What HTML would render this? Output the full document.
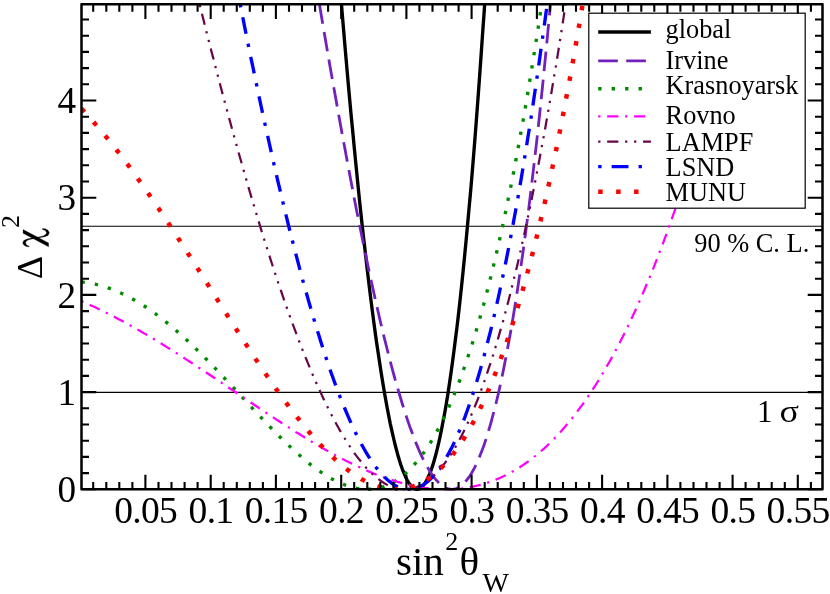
<!DOCTYPE html>
<html><head><meta charset="utf-8"><title>chart</title>
<style>
html,body{margin:0;padding:0;background:#fff;}
body{width:830px;height:594px;overflow:hidden;}
svg{display:block;will-change:transform;}
text{font-family:"Liberation Serif",serif;fill:#000;}
</style></head><body>
<svg width="830" height="594" viewBox="0 0 830 594">
<rect x="0" y="0" width="830" height="594" fill="#fff"/>

<defs><clipPath id="cp"><rect x="81.0" y="3.8" width="742.0" height="487.2"/></clipPath></defs>
<line x1="81.5" x2="822.5" y1="392.4" y2="392.4" stroke="#000" stroke-width="1.15"/>
<line x1="81.5" x2="822.5" y1="226.2" y2="226.2" stroke="#000" stroke-width="1.15"/>
<g clip-path="url(#cp)" fill="none" stroke-linejoin="round">
<path d="M339.0,-25.8 L340.5,-7.3 L342.0,10.9 L343.5,28.8 L345.0,46.5 L346.5,63.8 L348.0,80.8 L349.5,97.5 L351.0,113.9 L352.6,130.0 L354.1,145.8 L355.6,161.3 L357.1,176.4 L358.6,191.3 L360.1,205.8 L361.6,220.0 L363.1,233.8 L364.7,247.3 L366.2,260.5 L367.7,273.4 L369.2,285.9 L370.7,298.1 L372.2,309.9 L373.7,321.4 L375.2,332.5 L376.7,343.3 L378.3,353.7 L379.8,363.8 L381.3,373.4 L382.8,382.8 L384.3,391.7 L385.8,400.3 L387.3,408.5 L388.8,416.3 L390.3,423.8 L391.9,430.9 L393.4,437.5 L394.9,443.8 L396.4,449.7 L397.9,455.2 L399.4,460.3 L400.9,465.0 L402.4,469.3 L404.0,473.2 L405.5,476.7 L407.0,479.7 L408.5,482.4 L410.0,484.6 L411.5,486.4 L413.0,487.8 L414.5,488.7 L416.0,489.2 L417.6,489.3 L419.1,488.9 L420.6,488.1 L422.1,486.9 L423.6,485.2 L425.1,483.0 L426.6,480.4 L428.1,477.3 L429.6,473.8 L431.2,469.8 L432.7,465.4 L434.2,460.4 L435.7,455.0 L437.2,449.2 L438.7,442.8 L440.2,436.0 L441.7,428.6 L443.2,420.8 L444.8,412.5 L446.3,403.7 L447.8,394.4 L449.3,384.6 L450.8,374.3 L452.3,363.5 L453.8,352.1 L455.3,340.3 L456.9,327.9 L458.4,315.0 L459.9,301.6 L461.4,287.6 L462.9,273.2 L464.4,258.1 L465.9,242.6 L467.4,226.5 L468.9,209.9 L470.5,192.7 L472.0,174.9 L473.5,156.6 L475.0,137.8 L476.5,118.3 L478.0,98.4 L479.5,77.8 L481.0,56.7 L482.5,35.0 L484.1,12.7 L485.6,-10.2 L486.6,-25.8" stroke="#000000" stroke-width="3.36"/>
<path d="M314.5,-24.4 L316.0,-15.4 L317.5,-6.5 L319.1,2.4 L320.6,11.3 L322.1,20.2 L323.6,29.0 L325.1,37.8 L326.6,46.5 L328.1,55.2 L329.6,63.9 L331.1,72.5 L332.7,81.1 L334.2,89.7 L335.7,98.1 L337.2,106.6 L338.7,115.0 L340.2,123.3 L341.7,131.6 L343.2,139.9 L344.8,148.1 L346.3,156.2 L347.8,164.3 L349.3,172.3 L350.8,180.2 L352.3,188.1 L353.8,196.0 L355.3,203.7 L356.8,211.4 L358.4,219.1 L359.9,226.6 L361.4,234.1 L362.9,241.5 L364.4,248.9 L365.9,256.1 L367.4,263.3 L368.9,270.4 L370.4,277.5 L372.0,284.4 L373.5,291.3 L375.0,298.1 L376.5,304.7 L378.0,311.3 L379.5,317.9 L381.0,324.3 L382.5,330.6 L384.0,336.8 L385.6,343.0 L387.1,349.0 L388.6,354.9 L390.1,360.7 L391.6,366.5 L393.1,372.1 L394.6,377.6 L396.1,383.0 L397.7,388.3 L399.2,393.5 L400.7,398.5 L402.2,403.5 L403.7,408.3 L405.2,413.0 L406.7,417.6 L408.2,422.0 L409.7,426.4 L411.3,430.6 L412.8,434.7 L414.3,438.6 L415.8,442.4 L417.3,446.1 L418.8,449.7 L420.3,453.1 L421.8,456.3 L423.3,459.5 L424.9,462.4 L426.4,465.3 L427.9,468.0 L429.4,470.5 L430.9,472.9 L432.4,475.1 L433.9,477.2 L435.4,479.1 L437.0,480.9 L438.5,482.5 L440.0,483.9 L441.5,485.2 L443.0,486.3 L444.5,487.2 L446.0,488.0 L447.5,488.6 L449.0,489.0 L450.6,489.2 L451.8,489.3" stroke="#7221BC" stroke-width="2.80" stroke-dasharray="19.62 8.41" stroke-dashoffset="26.93"/>
<path d="M451.8,489.3 L453.3,489.2 L454.8,488.9 L456.3,488.5 L457.9,487.8 L459.4,487.0 L460.9,486.0 L462.4,484.8 L463.9,483.3 L465.4,481.7 L466.9,479.9 L468.4,477.9 L470.0,475.7 L471.5,473.3 L473.0,470.6 L474.5,467.8 L476.0,464.7 L477.5,461.5 L479.0,458.0 L480.5,454.3 L482.0,450.4 L483.6,446.2 L485.1,441.9 L486.6,437.3 L488.1,432.4 L489.6,427.4 L491.1,422.1 L492.6,416.5 L494.1,410.8 L495.6,404.8 L497.2,398.5 L498.7,392.0 L500.2,385.3 L501.7,378.3 L503.2,371.0 L504.7,363.5 L506.2,355.8 L507.7,347.8 L509.2,339.5 L510.8,331.0 L512.3,322.1 L513.8,313.1 L515.3,303.7 L516.8,294.1 L518.3,284.2 L519.8,274.0 L521.3,263.6 L522.9,252.9 L524.4,241.8 L525.9,230.5 L527.4,218.9 L528.9,207.1 L530.4,194.9 L531.9,182.4 L533.4,169.6 L534.9,156.6 L536.5,143.2 L538.0,129.5 L539.5,115.5 L541.0,101.2 L542.5,86.5 L544.0,71.6 L545.5,56.4 L547.0,40.8 L548.5,24.9 L550.1,8.6 L551.6,-7.9 L553.1,-24.8" stroke="#7221BC" stroke-width="2.80" stroke-dasharray="19.62 8.41" stroke-dashoffset="11.85"/>
<path d="M81.5,281.9 L83.0,282.1 L84.5,282.3 L86.0,282.5 L87.6,282.7 L89.1,282.9 L90.6,283.2 L92.1,283.5 L93.6,283.8 L95.1,284.1 L96.6,284.5 L98.1,284.9 L99.6,285.3 L101.2,285.7 L102.7,286.1 L104.2,286.6 L105.7,287.1 L107.2,287.6 L108.7,288.1 L110.2,288.6 L111.7,289.2 L113.2,289.8 L114.8,290.4 L116.3,291.0 L117.8,291.6 L119.3,292.3 L120.8,293.0 L122.3,293.7 L123.8,294.4 L125.3,295.2 L126.8,295.9 L128.4,296.7 L129.9,297.5 L131.4,298.3 L132.9,299.2 L134.4,300.0 L135.9,300.9 L137.4,301.8 L138.9,302.7 L140.5,303.6 L142.0,304.6 L143.5,305.6 L145.0,306.5 L146.5,307.5 L148.0,308.6 L149.5,309.6 L151.0,310.7 L152.5,311.7 L154.1,312.8 L155.6,313.9 L157.1,315.0 L158.6,316.2 L160.1,317.3 L161.6,318.5 L163.1,319.7 L164.6,320.9 L166.1,322.1 L167.7,323.3 L169.2,324.6 L170.7,325.8 L172.2,327.1 L173.7,328.4 L175.2,329.7 L176.7,331.0 L178.2,332.4 L179.7,333.7 L181.3,335.0 L182.8,336.4 L184.3,337.8 L185.8,339.2 L187.3,340.6 L188.8,342.0 L190.3,343.4 L191.8,344.9 L193.4,346.3 L194.9,347.8 L196.4,349.3 L197.9,350.7 L199.4,352.2 L200.9,353.7 L202.4,355.2 L203.9,356.8 L205.4,358.3 L207.0,359.8 L208.5,361.4 L210.0,362.9 L211.5,364.5 L213.0,366.0 L214.5,367.6 L216.0,369.2 L217.5,370.8 L219.0,372.4 L220.6,373.9 L222.1,375.5 L223.6,377.2 L225.1,378.8 L226.6,380.4 L228.1,382.0 L229.6,383.6 L231.1,385.2 L232.7,386.9 L234.2,388.5 L235.7,390.1 L237.2,391.8 L238.7,393.4 L240.2,395.0 L241.7,396.7 L243.2,398.3 L244.7,399.9 L246.3,401.6 L247.8,403.2 L249.3,404.8 L250.8,406.4 L252.3,408.1 L253.8,409.7 L255.3,411.3 L256.8,412.9 L258.3,414.5 L259.9,416.2 L261.4,417.8 L262.9,419.4 L264.4,421.0 L265.9,422.5 L267.4,424.1 L268.9,425.7 L270.4,427.3 L271.9,428.8 L273.5,430.4 L275.0,431.9 L276.5,433.4 L278.0,435.0 L279.5,436.5 L281.0,438.0 L282.5,439.5 L284.0,441.0 L285.6,442.4 L287.1,443.9 L288.6,445.3 L290.1,446.7 L291.6,448.2 L293.1,449.6 L294.6,450.9 L296.1,452.3 L297.6,453.7 L299.2,455.0 L300.7,456.3 L302.2,457.6 L303.7,458.9 L305.2,460.2 L306.7,461.4 L308.2,462.7 L309.7,463.9 L311.2,465.1 L312.8,466.2 L314.3,467.4 L315.8,468.5 L317.3,469.6 L318.8,470.7 L320.3,471.7 L321.8,472.7 L323.3,473.7 L324.9,474.7 L326.4,475.7 L327.9,476.6 L329.4,477.5 L330.9,478.4 L332.4,479.2 L333.9,480.0 L335.4,480.8 L336.9,481.5 L338.5,482.3 L340.0,483.0 L341.5,483.6 L343.0,484.2 L344.5,484.8 L346.0,485.4 L347.5,485.9 L349.0,486.4 L350.5,486.9 L352.1,487.3 L353.6,487.7 L355.1,488.0 L356.6,488.3 L358.1,488.6 L359.6,488.8 L361.1,489.0 L362.6,489.1 L364.1,489.2 L365.7,489.3 L367.2,489.3" stroke="#008B00" stroke-width="3.36" stroke-dasharray="3.36 10.09" stroke-dashoffset="0.00"/>
<path d="M367.2,489.3 L368.7,489.3 L370.2,489.2 L371.7,489.1 L373.2,488.9 L374.7,488.7 L376.2,488.5 L377.8,488.2 L379.3,487.8 L380.8,487.4 L382.3,487.0 L383.8,486.5 L385.3,485.9 L386.8,485.3 L388.3,484.7 L389.8,484.0 L391.4,483.2 L392.9,482.4 L394.4,481.5 L395.9,480.6 L397.4,479.6 L398.9,478.6 L400.4,477.5 L401.9,476.3 L403.4,475.1 L405.0,473.9 L406.5,472.5 L408.0,471.1 L409.5,469.7 L411.0,468.1 L412.5,466.6 L414.0,464.9 L415.5,463.2 L417.0,461.4 L418.6,459.5 L420.1,457.6 L421.6,455.6 L423.1,453.6 L424.6,451.4 L426.1,449.2 L427.6,447.0 L429.1,444.6 L430.7,442.2 L432.2,439.7 L433.7,437.2 L435.2,434.5 L436.7,431.8 L438.2,429.0 L439.7,426.1 L441.2,423.2 L442.7,420.1 L444.3,417.0 L445.8,413.8 L447.3,410.5 L448.8,407.2 L450.3,403.7 L451.8,400.2 L453.3,396.6 L454.8,392.9 L456.3,389.1 L457.9,385.2 L459.4,381.2 L460.9,377.1 L462.4,373.0 L463.9,368.7 L465.4,364.4 L466.9,360.0 L468.4,355.4 L470.0,350.8 L471.5,346.1 L473.0,341.3 L474.5,336.4 L476.0,331.4 L477.5,326.3 L479.0,321.0 L480.5,315.7 L482.0,310.3 L483.6,304.8 L485.1,299.1 L486.6,293.4 L488.1,287.6 L489.6,281.6 L491.1,275.6 L492.6,269.4 L494.1,263.1 L495.6,256.7 L497.2,250.2 L498.7,243.6 L500.2,236.9 L501.7,230.1 L503.2,223.1 L504.7,216.0 L506.2,208.8 L507.7,201.5 L509.2,194.1 L510.8,186.6 L512.3,178.9 L513.8,171.1 L515.3,163.2 L516.8,155.1 L518.3,146.9 L519.8,138.6 L521.3,130.2 L522.9,121.7 L524.4,113.0 L525.9,104.2 L527.4,95.2 L528.9,86.1 L530.4,76.9 L531.9,67.6 L533.4,58.1 L534.9,48.5 L536.5,38.7 L538.0,28.8 L539.5,18.8 L540.5,12.0" stroke="#008B00" stroke-width="3.36" stroke-dasharray="3.36 10.09" stroke-dashoffset="12.69"/>
<path d="M81.5,301.1 L83.0,301.8 L84.5,302.5 L86.0,303.1 L87.6,303.8 L89.1,304.5 L90.6,305.2 L92.1,305.9 L93.6,306.6 L95.1,307.3 L96.6,308.0 L98.1,308.8 L99.6,309.5 L101.2,310.2 L102.7,311.0 L104.2,311.7 L105.7,312.5 L107.2,313.2 L108.7,314.0 L110.2,314.7 L111.7,315.5 L113.2,316.3 L114.8,317.1 L116.3,317.9 L117.8,318.7 L119.3,319.5 L120.8,320.3 L122.3,321.1 L123.8,321.9 L125.3,322.7 L126.8,323.6 L128.4,324.4 L129.9,325.2 L131.4,326.1 L132.9,326.9 L134.4,327.8 L135.9,328.6 L137.4,329.5 L138.9,330.3 L140.5,331.2 L142.0,332.1 L143.5,333.0 L145.0,333.8 L146.5,334.7 L148.0,335.6 L149.5,336.5 L151.0,337.4 L152.5,338.3 L154.1,339.2 L155.6,340.1 L157.1,341.1 L158.6,342.0 L160.1,342.9 L161.6,343.8 L163.1,344.8 L164.6,345.7 L166.1,346.6 L167.7,347.6 L169.2,348.5 L170.7,349.5 L172.2,350.4 L173.7,351.4 L175.2,352.3 L176.7,353.3 L178.2,354.2 L179.7,355.2 L181.3,356.2 L182.8,357.1 L184.3,358.1 L185.8,359.1 L187.3,360.1 L188.8,361.0 L190.3,362.0 L191.8,363.0 L193.4,364.0 L194.9,365.0 L196.4,366.0 L197.9,367.0 L199.4,368.0 L200.9,369.0 L202.4,370.0 L203.9,371.0 L205.4,372.0 L207.0,373.0 L208.5,374.0 L210.0,375.0 L211.5,376.0 L213.0,377.0 L214.5,378.0 L216.0,379.0 L217.5,380.1 L219.0,381.1 L220.6,382.1 L222.1,383.1 L223.6,384.1 L225.1,385.1 L226.6,386.2 L228.1,387.2 L229.6,388.2 L231.1,389.2 L232.7,390.2 L234.2,391.3 L235.7,392.3 L237.2,393.3 L238.7,394.3 L240.2,395.3 L241.7,396.4 L243.2,397.4 L244.7,398.4 L246.3,399.4 L247.8,400.4 L249.3,401.5 L250.8,402.5 L252.3,403.5 L253.8,404.5 L255.3,405.5 L256.8,406.5 L258.3,407.5 L259.9,408.6 L261.4,409.6 L262.9,410.6 L264.4,411.6 L265.9,412.6 L267.4,413.6 L268.9,414.6 L270.4,415.6 L271.9,416.6 L273.5,417.6 L275.0,418.6 L276.5,419.6 L278.0,420.5 L279.5,421.5 L281.0,422.5 L282.5,423.5 L284.0,424.5 L285.6,425.4 L287.1,426.4 L288.6,427.4 L290.1,428.3 L291.6,429.3 L293.1,430.3 L294.6,431.2 L296.1,432.2 L297.6,433.1 L299.2,434.0 L300.7,435.0 L302.2,435.9 L303.7,436.8 L305.2,437.8 L306.7,438.7 L308.2,439.6 L309.7,440.5 L311.2,441.4 L312.8,442.3 L314.3,443.2 L315.8,444.1 L317.3,445.0 L318.8,445.9 L320.3,446.8 L321.8,447.6 L323.3,448.5 L324.9,449.4 L326.4,450.2 L327.9,451.1 L329.4,451.9 L330.9,452.8 L332.4,453.6 L333.9,454.4 L335.4,455.2 L336.9,456.0 L338.5,456.8 L340.0,457.6 L341.5,458.4 L343.0,459.2 L344.5,460.0 L346.0,460.8 L347.5,461.5 L349.0,462.3 L350.5,463.0 L352.1,463.8 L353.6,464.5 L355.1,465.2 L356.6,465.9 L358.1,466.7 L359.6,467.3 L361.1,468.0 L362.6,468.7 L364.1,469.4 L365.7,470.1 L367.2,470.7 L368.7,471.4 L370.2,472.0 L371.7,472.6 L373.2,473.2 L374.7,473.9 L376.2,474.5 L377.8,475.0 L379.3,475.6 L380.8,476.2 L382.3,476.8 L383.8,477.3 L385.3,477.8 L386.8,478.4 L388.3,478.9 L389.8,479.4 L391.4,479.9 L392.9,480.4 L394.4,480.8 L395.9,481.3 L397.4,481.8 L398.9,482.2 L400.4,482.6 L401.9,483.0 L403.4,483.4 L405.0,483.8 L406.5,484.2 L408.0,484.6 L409.5,484.9 L411.0,485.3 L412.5,485.6 L414.0,485.9 L415.5,486.2 L417.0,486.5 L418.6,486.8 L420.1,487.0 L421.6,487.3 L423.1,487.5 L424.6,487.8 L426.1,488.0 L427.6,488.1 L429.1,488.3 L430.7,488.5 L432.2,488.6 L433.7,488.8 L435.2,488.9 L436.7,489.0 L438.2,489.1 L439.7,489.2 L441.2,489.2 L442.7,489.3 L444.3,489.3 L445.8,489.3 L446.0,489.3" stroke="#FF00FF" stroke-width="2.24" stroke-dasharray="2.24 6.73 11.21 6.73" stroke-dashoffset="0.00"/>
<path d="M446.0,489.3 L447.5,489.3 L449.0,489.3 L450.6,489.2 L452.1,489.2 L453.6,489.1 L455.1,489.0 L456.6,488.9 L458.1,488.8 L459.6,488.6 L461.1,488.5 L462.6,488.3 L464.2,488.1 L465.7,487.9 L467.2,487.7 L468.7,487.4 L470.2,487.1 L471.7,486.9 L473.2,486.6 L474.7,486.2 L476.2,485.9 L477.8,485.5 L479.3,485.1 L480.8,484.7 L482.3,484.3 L483.8,483.9 L485.3,483.4 L486.8,482.9 L488.3,482.4 L489.9,481.9 L491.4,481.4 L492.9,480.8 L494.4,480.2 L495.9,479.6 L497.4,479.0 L498.9,478.4 L500.4,477.7 L501.9,477.0 L503.5,476.3 L505.0,475.6 L506.5,474.8 L508.0,474.0 L509.5,473.2 L511.0,472.4 L512.5,471.6 L514.0,470.7 L515.5,469.8 L517.1,468.9 L518.6,468.0 L520.1,467.0 L521.6,466.0 L523.1,465.0 L524.6,464.0 L526.1,462.9 L527.6,461.8 L529.1,460.7 L530.7,459.6 L532.2,458.4 L533.7,457.3 L535.2,456.0 L536.7,454.8 L538.2,453.6 L539.7,452.3 L541.2,451.0 L542.8,449.6 L544.3,448.3 L545.8,446.9 L547.3,445.5 L548.8,444.0 L550.3,442.5 L551.8,441.0 L553.3,439.5 L554.8,438.0 L556.4,436.4 L557.9,434.8 L559.4,433.1 L560.9,431.5 L562.4,429.8 L563.9,428.1 L565.4,426.3 L566.9,424.5 L568.4,422.7 L570.0,420.9 L571.5,419.0 L573.0,417.1 L574.5,415.2 L576.0,413.2 L577.5,411.2 L579.0,409.2 L580.5,407.2 L582.1,405.1 L583.6,403.0 L585.1,400.8 L586.6,398.7 L588.1,396.4 L589.6,394.2 L591.1,391.9 L592.6,389.6 L594.1,387.3 L595.7,384.9 L597.2,382.5 L598.7,380.1 L600.2,377.6 L601.7,375.1 L603.2,372.6 L604.7,370.0 L606.2,367.4 L607.7,364.8 L609.3,362.1 L610.8,359.4 L612.3,356.7 L613.8,353.9 L615.3,351.1 L616.8,348.2 L618.3,345.4 L619.8,342.5 L621.3,339.5 L622.9,336.5 L624.4,333.5 L625.9,330.4 L627.4,327.3 L628.9,324.2 L630.4,321.0 L631.9,317.8 L633.4,314.6 L635.0,311.3 L636.5,308.0 L638.0,304.6 L639.5,301.2 L641.0,297.8 L642.5,294.3 L644.0,290.8 L645.5,287.2 L647.0,283.6 L648.6,280.0 L650.1,276.3 L651.6,272.6 L653.1,268.9 L654.6,265.1 L656.1,261.2 L657.6,257.4 L659.1,253.4 L660.6,249.5 L662.2,245.5 L663.7,241.5 L665.2,237.4 L666.7,233.3 L668.2,229.1 L669.7,224.9 L671.2,220.6 L672.7,216.3 L674.2,212.0 L675.8,207.6 L677.3,203.2 L678.8,198.7 L680.3,194.2 L681.8,189.7 L683.3,185.1 L684.8,180.4 L686.3,175.7 L687.9,171.0 L689.4,166.2 L690.9,161.4 L692.4,156.5 L693.9,151.6 L695.4,146.6 L696.9,141.6 L698.4,136.6 L699.9,131.5 L701.5,126.3 L703.0,121.1 L704.5,115.9 L706.0,110.6 L707.5,105.3 L709.0,99.9 L710.5,94.4 L712.0,88.9 L713.5,83.4 L715.1,77.8 L716.6,72.2 L718.1,66.5 L719.6,60.8 L721.1,55.0 L722.6,49.2 L724.1,43.3 L725.6,37.4 L727.2,31.4 L728.7,25.3 L730.2,19.3 L731.4,14.1" stroke="#FF00FF" stroke-width="2.24" stroke-dasharray="2.24 6.73 11.21 6.73" stroke-dashoffset="12.00"/>
<path d="M192.1,-25.8 L193.6,-19.7 L195.1,-13.6 L196.6,-7.5 L198.1,-1.4 L199.7,4.7 L201.2,10.7 L202.7,16.7 L204.2,22.7 L205.7,28.7 L207.2,34.7 L208.7,40.6 L210.2,46.5 L211.7,52.4 L213.3,58.2 L214.8,64.1 L216.3,69.9 L217.8,75.7 L219.3,81.4 L220.8,87.2 L222.3,92.9 L223.8,98.5 L225.3,104.2 L226.9,109.8 L228.4,115.4 L229.9,121.0 L231.4,126.5 L232.9,132.0 L234.4,137.5 L235.9,143.0 L237.4,148.4 L238.9,153.8 L240.5,159.2 L242.0,164.5 L243.5,169.8 L245.0,175.1 L246.5,180.4 L248.0,185.6 L249.5,190.8 L251.0,195.9 L252.6,201.0 L254.1,206.1 L255.6,211.2 L257.1,216.2 L258.6,221.2 L260.1,226.1 L261.6,231.1 L263.1,235.9 L264.6,240.8 L266.2,245.6 L267.7,250.4 L269.2,255.1 L270.7,259.8 L272.2,264.5 L273.7,269.1 L275.2,273.7 L276.7,278.3 L278.2,282.8 L279.8,287.3 L281.3,291.7 L282.8,296.1 L284.3,300.5 L285.8,304.8 L287.3,309.1 L288.8,313.3 L290.3,317.5 L291.8,321.7 L293.4,325.8 L294.9,329.9 L296.4,333.9 L297.9,337.9 L299.4,341.9 L300.9,345.8 L302.4,349.6 L303.9,353.4 L305.5,357.2 L307.0,360.9 L308.5,364.6 L310.0,368.3 L311.5,371.8 L313.0,375.4 L314.5,378.9 L316.0,382.3 L317.5,385.7 L319.1,389.1 L320.6,392.4 L322.1,395.7 L323.6,398.9 L325.1,402.0 L326.6,405.2 L328.1,408.2 L329.6,411.2 L331.1,414.2 L332.7,417.1 L334.2,420.0 L335.7,422.8 L337.2,425.5 L338.7,428.2 L340.2,430.9 L341.7,433.5 L343.2,436.0 L344.8,438.5 L346.3,440.9 L347.8,443.3 L349.3,445.6 L350.8,447.9 L352.3,450.1 L353.8,452.3 L355.3,454.4 L356.8,456.4 L358.4,458.4 L359.9,460.3 L361.4,462.2 L362.9,464.0 L364.4,465.8 L365.9,467.5 L367.4,469.1 L368.9,470.7 L370.4,472.2 L372.0,473.6 L373.5,475.0 L375.0,476.3 L376.5,477.6 L378.0,478.8 L379.5,479.9 L381.0,481.0 L382.5,482.0 L384.0,483.0 L385.6,483.9 L387.1,484.7 L388.6,485.4 L390.1,486.1 L391.6,486.7 L393.1,487.3 L394.6,487.8 L396.1,488.2 L397.7,488.6 L399.2,488.8 L400.7,489.1 L402.2,489.2 L403.7,489.3 L404.7,489.3" stroke="#670748" stroke-width="2.24" stroke-dasharray="2.24 6.73 11.21 6.73 2.24 6.73" stroke-dashoffset="4.06"/>
<path d="M404.7,489.3 L406.2,489.3 L407.7,489.2 L409.2,489.0 L410.8,488.7 L412.3,488.4 L413.8,488.0 L415.3,487.5 L416.8,487.0 L418.3,486.4 L419.8,485.7 L421.3,484.9 L422.8,484.1 L424.4,483.2 L425.9,482.2 L427.4,481.1 L428.9,480.0 L430.4,478.8 L431.9,477.5 L433.4,476.1 L434.9,474.6 L436.4,473.1 L438.0,471.5 L439.5,469.8 L441.0,468.0 L442.5,466.2 L444.0,464.3 L445.5,462.2 L447.0,460.2 L448.5,458.0 L450.0,455.7 L451.6,453.4 L453.1,451.0 L454.6,448.5 L456.1,445.9 L457.6,443.2 L459.1,440.4 L460.6,437.6 L462.1,434.7 L463.7,431.6 L465.2,428.5 L466.7,425.3 L468.2,422.1 L469.7,418.7 L471.2,415.2 L472.7,411.7 L474.2,408.1 L475.7,404.3 L477.3,400.5 L478.8,396.6 L480.3,392.6 L481.8,388.5 L483.3,384.3 L484.8,380.1 L486.3,375.7 L487.8,371.2 L489.3,366.7 L490.9,362.0 L492.4,357.3 L493.9,352.4 L495.4,347.5 L496.9,342.5 L498.4,337.4 L499.9,332.1 L501.4,326.8 L503.0,321.4 L504.5,315.9 L506.0,310.2 L507.5,304.5 L509.0,298.7 L510.5,292.8 L512.0,286.8 L513.5,280.6 L515.0,274.4 L516.6,268.1 L518.1,261.7 L519.6,255.1 L521.1,248.5 L522.6,241.7 L524.1,234.9 L525.6,227.9 L527.1,220.9 L528.6,213.7 L530.2,206.5 L531.7,199.1 L533.2,191.6 L534.7,184.0 L536.2,176.3 L537.7,168.5 L539.2,160.6 L540.7,152.5 L542.2,144.4 L543.8,136.1 L545.3,127.8 L546.8,119.3 L548.3,110.7 L549.8,102.0 L551.3,93.2 L552.8,84.3 L554.3,75.2 L555.9,66.1 L557.4,56.8 L558.9,47.4 L560.4,37.9 L561.9,28.3 L563.4,18.6 L564.9,8.7 L566.4,-1.3 L567.9,-11.4 L569.5,-21.6 L570.0,-25.0" stroke="#670748" stroke-width="2.24" stroke-dasharray="2.24 6.73 11.21 6.73 2.24 6.73" stroke-dashoffset="3.53"/>
<path d="M234.4,-25.0 L235.9,-17.2 L237.4,-9.5 L238.9,-1.8 L240.5,5.9 L242.0,13.5 L243.5,21.0 L245.0,28.6 L246.5,36.1 L248.0,43.5 L249.5,50.9 L251.0,58.3 L252.6,65.6 L254.1,72.9 L255.6,80.1 L257.1,87.3 L258.6,94.4 L260.1,101.5 L261.6,108.5 L263.1,115.5 L264.6,122.5 L266.2,129.3 L267.7,136.2 L269.2,143.0 L270.7,149.7 L272.2,156.4 L273.7,163.1 L275.2,169.6 L276.7,176.2 L278.2,182.7 L279.8,189.1 L281.3,195.5 L282.8,201.8 L284.3,208.1 L285.8,214.3 L287.3,220.4 L288.8,226.5 L290.3,232.6 L291.8,238.6 L293.4,244.5 L294.9,250.4 L296.4,256.2 L297.9,261.9 L299.4,267.6 L300.9,273.3 L302.4,278.9 L303.9,284.4 L305.5,289.8 L307.0,295.2 L308.5,300.6 L310.0,305.8 L311.5,311.0 L313.0,316.2 L314.5,321.2 L316.0,326.3 L317.5,331.2 L319.1,336.1 L320.6,340.9 L322.1,345.7 L323.6,350.3 L325.1,355.0 L326.6,359.5 L328.1,364.0 L329.6,368.4 L331.1,372.7 L332.7,377.0 L334.2,381.2 L335.7,385.3 L337.2,389.4 L338.7,393.3 L340.2,397.3 L341.7,401.1 L343.2,404.9 L344.8,408.5 L346.3,412.2 L347.8,415.7 L349.3,419.2 L350.8,422.5 L352.3,425.9 L353.8,429.1 L355.3,432.2 L356.8,435.3 L358.4,438.3 L359.9,441.2 L361.4,444.1 L362.9,446.8 L364.4,449.5 L365.9,452.1 L367.4,454.6 L368.9,457.0 L370.4,459.4 L372.0,461.6 L373.5,463.8 L375.0,465.9 L376.5,467.9 L378.0,469.8 L379.5,471.6 L381.0,473.4 L382.5,475.0 L384.0,476.6 L385.6,478.1 L387.1,479.5 L388.6,480.8 L390.1,482.0 L391.6,483.1 L393.1,484.2 L394.6,485.1 L396.1,485.9 L397.7,486.7 L399.2,487.3 L400.7,487.9 L402.2,488.4 L403.7,488.8 L405.2,489.0 L406.7,489.2 L408.2,489.3 L408.7,489.3" stroke="#0000FF" stroke-width="3.36" stroke-dasharray="3.36 10.09 16.82 10.09" stroke-dashoffset="10.70"/>
<path d="M408.7,489.3 L410.2,489.3 L411.8,489.1 L413.3,488.9 L414.8,488.5 L416.3,488.1 L417.8,487.5 L419.3,486.9 L420.8,486.1 L422.3,485.3 L423.9,484.3 L425.4,483.3 L426.9,482.1 L428.4,480.9 L429.9,479.5 L431.4,478.0 L432.9,476.4 L434.4,474.7 L435.9,473.0 L437.5,471.0 L439.0,469.0 L440.5,466.9 L442.0,464.7 L443.5,462.3 L445.0,459.9 L446.5,457.3 L448.0,454.6 L449.5,451.8 L451.1,448.9 L452.6,445.9 L454.1,442.8 L455.6,439.5 L457.1,436.2 L458.6,432.7 L460.1,429.1 L461.6,425.4 L463.1,421.5 L464.7,417.6 L466.2,413.5 L467.7,409.3 L469.2,405.0 L470.7,400.6 L472.2,396.0 L473.7,391.4 L475.2,386.6 L476.8,381.6 L478.3,376.6 L479.8,371.4 L481.3,366.1 L482.8,360.7 L484.3,355.1 L485.8,349.4 L487.3,343.6 L488.8,337.7 L490.4,331.6 L491.9,325.4 L493.4,319.1 L494.9,312.6 L496.4,306.1 L497.9,299.3 L499.4,292.5 L500.9,285.5 L502.4,278.4 L504.0,271.1 L505.5,263.7 L507.0,256.2 L508.5,248.5 L510.0,240.7 L511.5,232.8 L513.0,224.7 L514.5,216.5 L516.1,208.1 L517.6,199.6 L519.1,191.0 L520.6,182.2 L522.1,173.3 L523.6,164.2 L525.1,155.0 L526.6,145.6 L528.1,136.1 L529.7,126.5 L531.2,116.7 L532.7,106.7 L534.2,96.6 L535.7,86.4 L537.2,76.0 L538.7,65.5 L540.2,54.8 L541.7,43.9 L543.3,32.9 L544.8,21.8 L546.3,10.5 L546.5,8.6" stroke="#0000FF" stroke-width="3.36" stroke-dasharray="3.36 10.09 16.82 10.09" stroke-dashoffset="1.57"/>
<path d="M81.5,108.7 L83.0,110.3 L84.5,112.0 L86.0,113.6 L87.6,115.2 L89.1,116.9 L90.6,118.6 L92.1,120.3 L93.6,122.0 L95.1,123.8 L96.6,125.5 L98.1,127.3 L99.6,129.1 L101.2,130.9 L102.7,132.7 L104.2,134.5 L105.7,136.3 L107.2,138.2 L108.7,140.0 L110.2,141.9 L111.7,143.8 L113.2,145.7 L114.8,147.7 L116.3,149.6 L117.8,151.5 L119.3,153.5 L120.8,155.5 L122.3,157.5 L123.8,159.5 L125.3,161.5 L126.8,163.5 L128.4,165.5 L129.9,167.6 L131.4,169.6 L132.9,171.7 L134.4,173.8 L135.9,175.9 L137.4,178.0 L138.9,180.1 L140.5,182.2 L142.0,184.4 L143.5,186.5 L145.0,188.7 L146.5,190.8 L148.0,193.0 L149.5,195.2 L151.0,197.4 L152.5,199.6 L154.1,201.8 L155.6,204.0 L157.1,206.3 L158.6,208.5 L160.1,210.7 L161.6,213.0 L163.1,215.3 L164.6,217.5 L166.1,219.8 L167.7,222.1 L169.2,224.4 L170.7,226.7 L172.2,229.0 L173.7,231.3 L175.2,233.6 L176.7,235.9 L178.2,238.3 L179.7,240.6 L181.3,242.9 L182.8,245.3 L184.3,247.6 L185.8,250.0 L187.3,252.3 L188.8,254.7 L190.3,257.1 L191.8,259.4 L193.4,261.8 L194.9,264.2 L196.4,266.5 L197.9,268.9 L199.4,271.3 L200.9,273.7 L202.4,276.1 L203.9,278.4 L205.4,280.8 L207.0,283.2 L208.5,285.6 L210.0,288.0 L211.5,290.4 L213.0,292.8 L214.5,295.2 L216.0,297.6 L217.5,299.9 L219.0,302.3 L220.6,304.7 L222.1,307.1 L223.6,309.5 L225.1,311.9 L226.6,314.2 L228.1,316.6 L229.6,319.0 L231.1,321.4 L232.7,323.7 L234.2,326.1 L235.7,328.4 L237.2,330.8 L238.7,333.1 L240.2,335.5 L241.7,337.8 L243.2,340.2 L244.7,342.5 L246.3,344.8 L247.8,347.1 L249.3,349.4 L250.8,351.7 L252.3,354.0 L253.8,356.3 L255.3,358.6 L256.8,360.8 L258.3,363.1 L259.9,365.4 L261.4,367.6 L262.9,369.8 L264.4,372.1 L265.9,374.3 L267.4,376.5 L268.9,378.7 L270.4,380.9 L271.9,383.0 L273.5,385.2 L275.0,387.3 L276.5,389.5 L278.0,391.6 L279.5,393.7 L281.0,395.8 L282.5,397.9 L284.0,400.0 L285.6,402.0 L287.1,404.1 L288.6,406.1 L290.1,408.1 L291.6,410.1 L293.1,412.1 L294.6,414.0 L296.1,416.0 L297.6,417.9 L299.2,419.8 L300.7,421.7 L302.2,423.6 L303.7,425.5 L305.2,427.3 L306.7,429.1 L308.2,430.9 L309.7,432.7 L311.2,434.5 L312.8,436.2 L314.3,437.9 L315.8,439.6 L317.3,441.3 L318.8,443.0 L320.3,444.6 L321.8,446.2 L323.3,447.8 L324.9,449.3 L326.4,450.9 L327.9,452.4 L329.4,453.9 L330.9,455.4 L332.4,456.8 L333.9,458.2 L335.4,459.6 L336.9,461.0 L338.5,462.3 L340.0,463.6 L341.5,464.9 L343.0,466.2 L344.5,467.4 L346.0,468.6 L347.5,469.8 L349.0,470.9 L350.5,472.0 L352.1,473.1 L353.6,474.1 L355.1,475.1 L356.6,476.1 L358.1,477.1 L359.6,478.0 L361.1,478.9 L362.6,479.7 L364.1,480.6 L365.7,481.4 L367.2,482.1 L368.7,482.8 L370.2,483.5 L371.7,484.2 L373.2,484.8 L374.7,485.3 L376.2,485.9 L377.8,486.4 L379.3,486.8 L380.8,487.3 L382.3,487.6 L383.8,488.0 L385.3,488.3 L386.8,488.6 L388.3,488.8 L389.8,489.0 L391.4,489.1 L392.9,489.2 L394.4,489.3 L395.6,489.3" stroke="#FF0000" stroke-width="4.48" stroke-dasharray="4.48 13.45" stroke-dashoffset="0.00"/>
<path d="M395.6,489.3 L397.1,489.3 L398.7,489.2 L400.2,489.1 L401.7,489.0 L403.2,488.8 L404.7,488.5 L406.2,488.2 L407.7,487.9 L409.2,487.5 L410.8,487.1 L412.3,486.6 L413.8,486.1 L415.3,485.5 L416.8,484.9 L418.3,484.3 L419.8,483.5 L421.3,482.8 L422.8,481.9 L424.4,481.1 L425.9,480.2 L427.4,479.2 L428.9,478.2 L430.4,477.1 L431.9,475.9 L433.4,474.7 L434.9,473.5 L436.4,472.2 L438.0,470.9 L439.5,469.4 L441.0,468.0 L442.5,466.5 L444.0,464.9 L445.5,463.2 L447.0,461.5 L448.5,459.8 L450.0,458.0 L451.6,456.1 L453.1,454.1 L454.6,452.1 L456.1,450.1 L457.6,448.0 L459.1,445.8 L460.6,443.5 L462.1,441.2 L463.7,438.8 L465.2,436.4 L466.7,433.9 L468.2,431.3 L469.7,428.7 L471.2,426.0 L472.7,423.2 L474.2,420.4 L475.7,417.5 L477.3,414.5 L478.8,411.4 L480.3,408.3 L481.8,405.1 L483.3,401.9 L484.8,398.5 L486.3,395.1 L487.8,391.7 L489.3,388.1 L490.9,384.5 L492.4,380.8 L493.9,377.0 L495.4,373.2 L496.9,369.3 L498.4,365.3 L499.9,361.2 L501.4,357.0 L503.0,352.8 L504.5,348.5 L506.0,344.1 L507.5,339.6 L509.0,335.1 L510.5,330.5 L512.0,325.7 L513.5,321.0 L515.0,316.1 L516.6,311.1 L518.1,306.1 L519.6,300.9 L521.1,295.7 L522.6,290.4 L524.1,285.1 L525.6,279.6 L527.1,274.0 L528.6,268.4 L530.2,262.6 L531.7,256.8 L533.2,250.9 L534.7,244.9 L536.2,238.8 L537.7,232.6 L539.2,226.4 L540.7,220.0 L542.2,213.5 L543.8,207.0 L545.3,200.3 L546.8,193.6 L548.3,186.7 L549.8,179.8 L551.3,172.8 L552.8,165.6 L554.3,158.4 L555.9,151.1 L557.4,143.7 L558.9,136.1 L560.4,128.5 L561.9,120.8 L563.4,113.0 L564.9,105.0 L566.4,97.0 L567.9,88.9 L569.5,80.6 L571.0,72.3 L572.5,63.8 L574.0,55.3 L575.5,46.6 L577.0,37.8 L578.5,28.9 L580.0,20.0 L581.5,10.9 L583.1,1.7 L584.6,-7.7 L586.1,-17.1 L587.3,-25.0" stroke="#FF0000" stroke-width="4.48" stroke-dasharray="4.48 13.45" stroke-dashoffset="2.73"/>
</g>
<g stroke="#000" stroke-width="2.1" fill="none">
<path d="M93.2,489.3v-7.4M93.2,4.3v7.4M106.3,489.3v-7.4M106.3,4.3v7.4M119.3,489.3v-7.4M119.3,4.3v7.4M132.4,489.3v-7.4M132.4,4.3v7.4M145.4,489.3v-14.6M145.4,4.3v14.6M158.5,489.3v-7.4M158.5,4.3v7.4M171.5,489.3v-7.4M171.5,4.3v7.4M184.6,489.3v-7.4M184.6,4.3v7.4M197.6,489.3v-7.4M197.6,4.3v7.4M210.7,489.3v-14.6M210.7,4.3v14.6M223.7,489.3v-7.4M223.7,4.3v7.4M236.8,489.3v-7.4M236.8,4.3v7.4M249.8,489.3v-7.4M249.8,4.3v7.4M262.9,489.3v-7.4M262.9,4.3v7.4M275.9,489.3v-14.6M275.9,4.3v14.6M289.0,489.3v-7.4M289.0,4.3v7.4M302.0,489.3v-7.4M302.0,4.3v7.4M315.1,489.3v-7.4M315.1,4.3v7.4M328.1,489.3v-7.4M328.1,4.3v7.4M341.2,489.3v-14.6M341.2,4.3v14.6M354.2,489.3v-7.4M354.2,4.3v7.4M367.3,489.3v-7.4M367.3,4.3v7.4M380.3,489.3v-7.4M380.3,4.3v7.4M393.4,489.3v-7.4M393.4,4.3v7.4M406.4,489.3v-14.6M406.4,4.3v14.6M419.4,489.3v-7.4M419.4,4.3v7.4M432.5,489.3v-7.4M432.5,4.3v7.4M445.5,489.3v-7.4M445.5,4.3v7.4M458.6,489.3v-7.4M458.6,4.3v7.4M471.6,489.3v-14.6M471.6,4.3v14.6M484.7,489.3v-7.4M484.7,4.3v7.4M497.7,489.3v-7.4M497.7,4.3v7.4M510.8,489.3v-7.4M510.8,4.3v7.4M523.8,489.3v-7.4M523.8,4.3v7.4M536.9,489.3v-14.6M536.9,4.3v14.6M549.9,489.3v-7.4M549.9,4.3v7.4M563.0,489.3v-7.4M563.0,4.3v7.4M576.0,489.3v-7.4M576.0,4.3v7.4M589.1,489.3v-7.4M589.1,4.3v7.4M602.1,489.3v-14.6M602.1,4.3v14.6M615.2,489.3v-7.4M615.2,4.3v7.4M628.2,489.3v-7.4M628.2,4.3v7.4M641.3,489.3v-7.4M641.3,4.3v7.4M654.3,489.3v-7.4M654.3,4.3v7.4M667.4,489.3v-14.6M667.4,4.3v14.6M680.4,489.3v-7.4M680.4,4.3v7.4M693.5,489.3v-7.4M693.5,4.3v7.4M706.5,489.3v-7.4M706.5,4.3v7.4M719.6,489.3v-7.4M719.6,4.3v7.4M732.6,489.3v-14.6M732.6,4.3v14.6M745.6,489.3v-7.4M745.6,4.3v7.4M758.7,489.3v-7.4M758.7,4.3v7.4M771.7,489.3v-7.4M771.7,4.3v7.4M784.8,489.3v-7.4M784.8,4.3v7.4M797.8,489.3v-14.6M797.8,4.3v14.6M810.9,489.3v-7.4M810.9,4.3v7.4M81.5,489.3h14.8M822.5,489.3h-14.8M81.5,473.1h7.5M822.5,473.1h-7.5M81.5,456.9h7.5M822.5,456.9h-7.5M81.5,440.7h7.5M822.5,440.7h-7.5M81.5,424.5h7.5M822.5,424.5h-7.5M81.5,408.3h7.5M822.5,408.3h-7.5M81.5,392.1h14.8M822.5,392.1h-14.8M81.5,375.9h7.5M822.5,375.9h-7.5M81.5,359.7h7.5M822.5,359.7h-7.5M81.5,343.5h7.5M822.5,343.5h-7.5M81.5,327.3h7.5M822.5,327.3h-7.5M81.5,311.1h7.5M822.5,311.1h-7.5M81.5,294.9h14.8M822.5,294.9h-14.8M81.5,278.7h7.5M822.5,278.7h-7.5M81.5,262.5h7.5M822.5,262.5h-7.5M81.5,246.3h7.5M822.5,246.3h-7.5M81.5,230.1h7.5M822.5,230.1h-7.5M81.5,213.9h7.5M822.5,213.9h-7.5M81.5,197.7h14.8M822.5,197.7h-14.8M81.5,181.5h7.5M822.5,181.5h-7.5M81.5,165.3h7.5M822.5,165.3h-7.5M81.5,149.1h7.5M822.5,149.1h-7.5M81.5,132.9h7.5M822.5,132.9h-7.5M81.5,116.7h7.5M822.5,116.7h-7.5M81.5,100.5h14.8M822.5,100.5h-14.8M81.5,84.3h7.5M822.5,84.3h-7.5M81.5,68.1h7.5M822.5,68.1h-7.5M81.5,51.9h7.5M822.5,51.9h-7.5M81.5,35.7h7.5M822.5,35.7h-7.5M81.5,19.5h7.5M822.5,19.5h-7.5"/>
</g>
<rect x="81.5" y="4.3" width="741.0" height="485.0" fill="none" stroke="#000" stroke-width="2.5" stroke-linejoin="round"/>
<text x="145.7" y="522.8" font-size="37.5" letter-spacing="-0.65" text-anchor="middle">0.05</text>
<text x="211.0" y="522.8" font-size="37.5" letter-spacing="-0.65" text-anchor="middle">0.1</text>
<text x="276.2" y="522.8" font-size="37.5" letter-spacing="-0.65" text-anchor="middle">0.15</text>
<text x="341.5" y="522.8" font-size="37.5" letter-spacing="-0.65" text-anchor="middle">0.2</text>
<text x="406.7" y="522.8" font-size="37.5" letter-spacing="-0.65" text-anchor="middle">0.25</text>
<text x="471.9" y="522.8" font-size="37.5" letter-spacing="-0.65" text-anchor="middle">0.3</text>
<text x="537.2" y="522.8" font-size="37.5" letter-spacing="-0.65" text-anchor="middle">0.35</text>
<text x="602.4" y="522.8" font-size="37.5" letter-spacing="-0.65" text-anchor="middle">0.4</text>
<text x="667.7" y="522.8" font-size="37.5" letter-spacing="-0.65" text-anchor="middle">0.45</text>
<text x="732.9" y="522.8" font-size="37.5" letter-spacing="-0.65" text-anchor="middle">0.5</text>
<text x="798.1" y="522.8" font-size="37.5" letter-spacing="-0.65" text-anchor="middle">0.55</text>
<text x="76.2" y="502.0" font-size="37.2" text-anchor="end">0</text>
<text x="76.2" y="404.8" font-size="37.2" text-anchor="end">1</text>
<text x="76.2" y="307.6" font-size="37.2" text-anchor="end">2</text>
<text x="76.2" y="210.4" font-size="37.2" text-anchor="end">3</text>
<text x="76.2" y="113.2" font-size="37.2" text-anchor="end">4</text>
<text x="396" y="574.6" font-size="41">sin</text>
<text x="445.3" y="549.8" font-size="26">2</text>
<text x="459.5" y="574.6" font-size="41">θ</text>
<text x="482.5" y="592" font-size="28">W</text>
<g transform="translate(41.7,279.5) rotate(-90)"><text x="0.3" y="0.1" font-size="36.5">Δ</text><text x="51.4" y="-22.6" font-size="26">2</text></g>
<path fill="#000" stroke="#000" stroke-width="0.3" stroke-linejoin="round" d="M23.08,229.58 L48.59,242.96 L48.59,246.75 L23.08,233.36ZM29.14,246.85 L26.11,246.49 L23.59,244.83 L22.68,242.71 L23.84,240.43 L27.12,238.92 L31.67,238.06 L35.20,237.30 L38.74,236.90 L43.28,235.89 L45.81,234.37 L46.57,232.61 L45.30,230.59 L42.53,229.42 L42.53,228.57 L45.30,228.82 L48.08,230.33 L49.34,232.86 L48.08,235.38 L44.80,236.65 L39.24,237.76 L35.20,238.26 L31.92,239.02 L28.64,239.78 L26.36,241.04 L25.61,242.71 L26.36,244.73 L29.14,246.24Z"/>
<text x="694.2" y="251.8" font-size="26.4">90 % C. L.</text>
<text x="757" y="422.4" font-size="31">1</text><text x="779.6" y="422.4" font-size="31" textLength="19.5" lengthAdjust="spacingAndGlyphs">σ</text>
<rect x="588.8" y="13.2" width="216.4" height="195" fill="#fff" stroke="#000" stroke-width="1.2"/>
<line x1="598.2" x2="650.9" y1="32.0" y2="32.0" stroke="#000000" stroke-width="3.36"/>
<text x="665.6" y="37.9" font-size="26.3">global</text>
<line x1="598.2" x2="650.9" y1="60.8" y2="60.8" stroke="#7221BC" stroke-width="2.80" stroke-dasharray="19.62 8.41"/>
<text x="665.6" y="69.0" font-size="26.3">Irvine</text>
<line x1="598.2" x2="650.9" y1="88.7" y2="88.7" stroke="#008B00" stroke-width="3.36" stroke-dasharray="3.36 10.09"/>
<text x="665.6" y="93.9" font-size="26.3">Krasnoyarsk</text>
<line x1="598.2" x2="650.9" y1="116.4" y2="116.4" stroke="#FF00FF" stroke-width="2.24" stroke-dasharray="2.24 6.73 11.21 6.73"/>
<text x="665.6" y="124.2" font-size="26.3">Rovno</text>
<line x1="598.2" x2="650.9" y1="141.7" y2="141.7" stroke="#670748" stroke-width="2.24" stroke-dasharray="2.24 6.73 11.21 6.73 2.24 6.73"/>
<text x="665.6" y="150.6" font-size="26.3">LAMPF</text>
<line x1="598.2" x2="650.9" y1="166.6" y2="166.6" stroke="#0000FF" stroke-width="3.36" stroke-dasharray="3.36 10.09 16.82 10.09"/>
<text x="665.6" y="175.5" font-size="26.3">LSND</text>
<line x1="598.2" x2="650.9" y1="191.8" y2="191.8" stroke="#FF0000" stroke-width="4.48" stroke-dasharray="4.48 13.45"/>
<text x="665.6" y="200.9" font-size="26.3">MUNU</text>
</svg></body></html>
